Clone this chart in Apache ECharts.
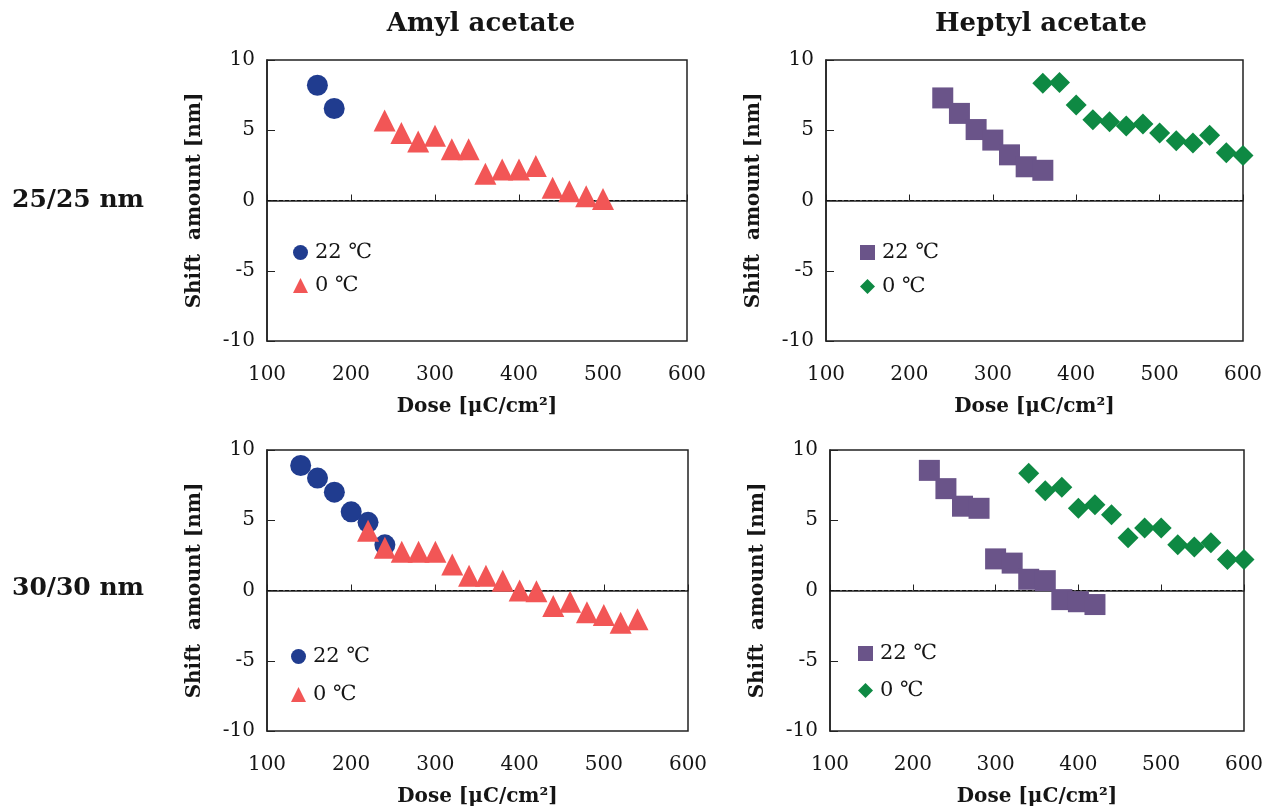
<!DOCTYPE html>
<html>
<head>
<meta charset="utf-8">
<script src="https://cdn.jsdelivr.net/npm/echarts@6/dist/echarts.min.js"></script>
<style>html,body{margin:0;padding:0;background:#fff}#c{width:1273px;height:810px}</style>
</head>
<body>
<div id="c"></div>
<script>
// ---- data ----
const xTicks = [100, 200, 300, 400, 500, 600];
const yTicks = [-10, -5, 0, 5, 10];
const panelTitles = ['Amyl acetate', 'Heptyl acetate'];
const rowLabels = ['25/25 nm', '30/30 nm'];
const legendNames = ['22 \u2103', '0 \u2103'];

// Amyl acetate, 25/25 nm
const doseA25_22 = [160, 180];
const shiftA25_22 = [8.2, 6.55];
const doseA25_0 = [240, 260, 280, 300, 320, 340, 360, 380, 400, 420, 440, 460, 480, 500];
const shiftA25_0 = [5.7, 4.8, 4.2, 4.6, 3.65, 3.65, 1.9, 2.2, 2.2, 2.45, 0.9, 0.65, 0.3, 0.1];
// Heptyl acetate, 25/25 nm
const doseH25_22 = [240, 260, 280, 300, 320, 340, 360];
const shiftH25_22 = [7.3, 6.2, 5.05, 4.3, 3.25, 2.4, 2.15];
const doseH25_0 = [360, 380, 400, 420, 440, 460, 480, 500, 520, 540, 560, 580, 600];
const shiftH25_0 = [8.35, 8.4, 6.8, 5.75, 5.6, 5.3, 5.45, 4.8, 4.25, 4.1, 4.65, 3.4, 3.2];
// Amyl acetate, 30/30 nm
const doseA30_22 = [140, 160, 180, 200, 220, 240];
const shiftA30_22 = [8.9, 8.0, 7.0, 5.6, 4.85, 3.25];
const doseA30_0 = [220, 240, 260, 280, 300, 320, 340, 360, 380, 400, 420, 440, 460, 480, 500, 520, 540];
const shiftA30_0 = [4.25, 3.05, 2.75, 2.75, 2.75, 1.85, 1.05, 1.05, 0.7, 0.0, -0.05, -1.1, -0.8, -1.55, -1.75, -2.3, -2.05];
// Heptyl acetate, 30/30 nm
const doseH30_22 = [220, 240, 260, 280, 300, 320, 340, 360, 380, 400, 420];
const shiftH30_22 = [8.55, 7.25, 6.0, 5.85, 2.25, 1.95, 0.8, 0.7, -0.65, -0.8, -1.0];
const doseH30_0 = [340, 360, 380, 400, 420, 440, 460, 480, 500, 520, 540, 560, 580, 600];
const shiftH30_0 = [8.35, 7.1, 7.35, 5.85, 6.1, 5.4, 3.75, 4.45, 4.45, 3.25, 3.1, 3.4, 2.2, 2.2];

// ---- build ----
const zip = (xs, ys) => xs.map((x, i) => [x, ys[i]]);
const FONT = '"DejaVu Serif", "Liberation Serif", serif';
const TXT = '#151515';
const C_BLUE = '#203C8F', C_RED = '#F25656', C_PURPLE = '#6A5489', C_GREEN = '#0E8943';

const grids = [
  {left: 267, top: 60, width: 420, height: 281},
  {left: 826, top: 60, width: 417, height: 281},
  {left: 267, top: 450, width: 421, height: 281},
  {left: 830, top: 450, width: 414, height: 281}
];
const panels = [
  {s22: zip(doseA25_22, shiftA25_22), s0: zip(doseA25_0, shiftA25_0), sym22: 'circle', sym0: 'triangle', c22: C_BLUE, c0: C_RED,
   legend: {left: 293, top: 242, itemGap: 12}},
  {s22: zip(doseH25_22, shiftH25_22), s0: zip(doseH25_0, shiftH25_0), sym22: 'rect', sym0: 'diamond', c22: C_PURPLE, c0: C_GREEN,
   legend: {left: 860, top: 242, itemGap: 13}},
  {s22: zip(doseA30_22, shiftA30_22), s0: zip(doseA30_0, shiftA30_0), sym22: 'circle', sym0: 'triangle', c22: C_BLUE, c0: C_RED,
   legend: {left: 291, top: 646, itemGap: 17}},
  {s22: zip(doseH30_22, shiftH30_22), s0: zip(doseH30_0, shiftH30_0), sym22: 'rect', sym0: 'diamond', c22: C_PURPLE, c0: C_GREEN,
   legend: {left: 858, top: 643, itemGap: 16}}
];

const xAxis = [], yAxis = [], series = [], legend = [];
panels.forEach((p, i) => {
  xAxis.push({
    type: 'value', gridIndex: i, min: xTicks[0], max: xTicks[xTicks.length - 1], interval: 100,
    name: 'Dose [\u03bcC/cm\u00b2]', nameLocation: 'middle', nameGap: 56,
    nameTextStyle: {fontFamily: FONT, fontWeight: 'bold', fontSize: 20, color: TXT},
    axisLine: {show: true, lineStyle: {color: '#222', width: 1.5}},
    axisTick: {show: true, inside: true, length: 6, lineStyle: {color: '#222', width: 1}},
    axisLabel: {fontFamily: FONT, fontSize: 20, color: TXT, margin: 24},
    splitLine: {show: false}
  });
  yAxis.push({
    type: 'value', gridIndex: i, min: yTicks[0], max: yTicks[yTicks.length - 1], interval: 5,
    name: 'Shift  amount [nm]', nameLocation: 'middle', nameGap: 62, nameRotate: 90,
    nameTextStyle: {fontFamily: FONT, fontWeight: 'bold', fontSize: 20, color: TXT},
    axisLine: {show: true, lineStyle: {color: '#222', width: 1.5}},
    axisTick: {show: true, inside: true, length: 8, lineStyle: {color: '#222', width: 1}},
    axisLabel: {fontFamily: FONT, fontSize: 20, color: TXT, margin: 12},
    splitLine: {show: false}
  });
  const n22 = legendNames[0] + '|' + i, n0 = legendNames[1] + '|' + i;
  series.push({
    type: 'scatter', name: n22, xAxisIndex: i, yAxisIndex: i, data: p.s22,
    symbol: p.sym22, symbolSize: 21, itemStyle: {color: p.c22, opacity: 1}, z: 3,
    markLine: {silent: true, symbol: 'none', label: {show: false},
      lineStyle: {type: 'dashed', color: '#111', width: 1}, data: [{yAxis: 0}], z: 1}
  });
  series.push({
    type: 'scatter', name: n0, xAxisIndex: i, yAxisIndex: i, data: p.s0,
    symbol: p.sym0, symbolSize: p.sym0 === 'triangle' ? 22 : 21, itemStyle: {color: p.c0, opacity: 1}, z: 4
  });
  legend.push({
    orient: 'vertical', left: p.legend.left, top: p.legend.top, itemGap: p.legend.itemGap, padding: 0,
    itemWidth: 15, itemHeight: 15, selectedMode: false,
    formatter: n => n.split('|')[0],
    textStyle: {fontFamily: FONT, fontSize: 21, color: TXT, padding: [0, 0, 0, 2]},
    data: [
      {name: n22, icon: p.sym22 === 'circle' ? 'circle' : 'rect'},
      {name: n0, icon: p.sym0 === 'triangle' ? 'triangle' : 'diamond'}
    ]
  });
});

const graphic = [
  {type: 'text', style: {text: panelTitles[0], x: 481, y: 24, align: 'center', verticalAlign: 'middle',
    font: 'bold 26px ' + FONT, fill: TXT}},
  {type: 'text', style: {text: panelTitles[1], x: 1041, y: 24, align: 'center', verticalAlign: 'middle',
    font: 'bold 26px ' + FONT, fill: TXT}},
  {type: 'text', style: {text: rowLabels[0], x: 12, y: 200, align: 'left', verticalAlign: 'middle',
    font: 'bold 25px ' + FONT, fill: TXT}},
  {type: 'text', style: {text: rowLabels[1], x: 12, y: 588, align: 'left', verticalAlign: 'middle',
    font: 'bold 25px ' + FONT, fill: TXT}}
];

const chart = echarts.init(document.getElementById('c'));
chart.setOption({
  animation: false,
  backgroundColor: '#fff',
  grid: grids.map(g => Object.assign({show: true, borderColor: '#222', borderWidth: 1.5, backgroundColor: 'transparent'}, g)),
  xAxis, yAxis, series, legend, graphic
});
</script>
</body>
</html>
